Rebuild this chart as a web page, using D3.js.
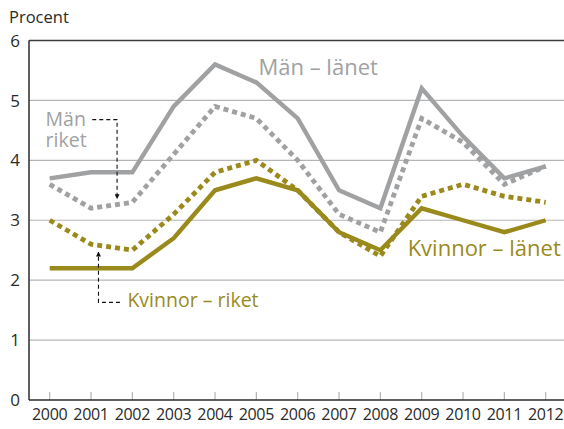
<!DOCTYPE html>
<html>
<head>
<meta charset="utf-8">
<script src="https://cdn.jsdelivr.net/npm/d3@7"></script>
<style>
  html, body { margin: 0; padding: 0; background: #fff; }
  svg { display: block; font-family: "Open Sans", "Noto Sans", sans-serif; }
</style>
</head>
<body>
<div id="chart"></div>
<script>
// Data
const years = [2000, 2001, 2002, 2003, 2004, 2005, 2006, 2007, 2008, 2009, 2010, 2011, 2012];
const manLanet     = [3.7, 3.8, 3.8, 4.9, 5.6, 5.3, 4.7, 3.5, 3.2, 5.2, 4.4, 3.7, 3.9];
const manRiket     = [3.6, 3.2, 3.3, 4.1, 4.9, 4.7, 4.0, 3.1, 2.8, 4.7, 4.3, 3.6, 3.9];
const kvinnorLanet = [2.2, 2.2, 2.2, 2.7, 3.5, 3.7, 3.5, 2.8, 2.5, 3.2, 3.0, 2.8, 3.0];
const kvinnorRiket = [3.0, 2.6, 2.5, 3.1, 3.8, 4.0, 3.5, 2.8, 2.4, 3.4, 3.6, 3.4, 3.3];
const yTicks = [0, 1, 2, 3, 4, 5, 6];

const width = 564, height = 429;
const gray = '#a0a1a3';
const olive = '#9a8a1c';

const svg = d3.select('#chart').append('svg')
    .attr('width', width)
    .attr('height', height);

const plotLeft = 29, plotRight = 564;
const x = d3.scaleLinear().domain([2000, 2012]).range([49.7, 545.7]);
const y = d3.scaleLinear().domain([0, 6]).range([400, 40.5]);

// Gridlines
svg.append('g')
    .selectAll('line')
    .data(yTicks.filter(d => d > 0 && d < 6))
    .enter().append('line')
    .attr('x1', plotLeft).attr('x2', plotRight)
    .attr('y1', d => y(d)).attr('y2', d => y(d))
    .attr('stroke', '#b4b4b4')
    .attr('stroke-width', 1.2);

// Top border
svg.append('line')
    .attr('x1', plotLeft).attr('x2', plotRight)
    .attr('y1', y(6)).attr('y2', y(6))
    .attr('stroke', '#3a3a3a').attr('stroke-width', 1.3);

// Year ticks (inside, gray)
svg.append('g')
    .selectAll('line')
    .data(years)
    .enter().append('line')
    .attr('x1', d => x(d)).attr('x2', d => x(d))
    .attr('y1', y(0) - 8).attr('y2', y(0))
    .attr('stroke', '#b4b4b4')
    .attr('stroke-width', 1.2);

// Axes lines
svg.append('line')
    .attr('x1', plotLeft).attr('x2', plotRight)
    .attr('y1', y(0)).attr('y2', y(0))
    .attr('stroke', '#2a2a2a').attr('stroke-width', 1.5);
svg.append('line')
    .attr('x1', plotLeft).attr('x2', plotLeft)
    .attr('y1', y(6)).attr('y2', y(0))
    .attr('stroke', '#2a2a2a').attr('stroke-width', 1.5);

// Y tick labels
svg.append('g')
    .selectAll('text')
    .data(yTicks)
    .enter().append('text')
    .attr('x', 20)
    .attr('y', d => y(d))
    .attr('dy', '0.36em')
    .attr('text-anchor', 'end')
    .attr('font-size', 17)
    .attr('fill', '#2a2a2a')
    .text(d => d);

// X tick labels
svg.append('g')
    .selectAll('text')
    .data(years)
    .enter().append('text')
    .attr('x', d => x(d))
    .attr('y', 420)
    .attr('text-anchor', 'middle')
    .attr('font-size', 16)
    .attr('letter-spacing', -0.3)
    .attr('fill', '#2a2a2a')
    .text(d => d);

svg.append('text')
    .attr('x', 9).attr('y', 23)
    .attr('font-size', 16.5)
    .attr('fill', '#2a2a2a')
    .text('Procent');

// Lines
const line = values => d3.line()
    .x((d, i) => x(years[i]))
    .y(d => y(d))(values);

const series = [
    { values: kvinnorLanet, color: olive, dashed: false },
    { values: kvinnorRiket, color: olive, dashed: true },
    { values: manLanet, color: gray, dashed: false },
    { values: manRiket, color: gray, dashed: true }
];

svg.append('g')
    .selectAll('path')
    .data(series)
    .enter().append('path')
    .attr('d', d => line(d.values))
    .attr('fill', 'none')
    .attr('stroke', d => d.color)
    .attr('stroke-width', d => d.dashed ? 4.8 : 4.4)
    .attr('stroke-dasharray', d => d.dashed ? '5,4' : null)
    .attr('stroke-linejoin', 'miter');

// Labels
svg.append('text')
    .attr('x', x(2005.05)).attr('y', y(5.43))
    .attr('font-size', 22).attr('fill', gray)
    .text('Män – länet');

svg.append('text')
    .attr('x', x(2008.66)).attr('y', y(2.4))
    .attr('font-size', 22).attr('fill', olive)
    .text('Kvinnor – länet');

svg.append('text')
    .attr('x', x(2001.88)).attr('y', y(1.55))
    .attr('font-size', 19.5).attr('fill', olive)
    .text('Kvinnor – riket');

const manRiketLabel = svg.append('text')
    .attr('font-size', 19.5).attr('fill', gray);
manRiketLabel.append('tspan').attr('x', x(1999.9)).attr('y', y(4.58)).text('Män');
manRiketLabel.append('tspan').attr('x', x(1999.9)).attr('y', y(4.22)).text('riket');

// Arrow markers
const defs = svg.append('defs');
defs.append('marker')
    .attr('id', 'arrow')
    .attr('viewBox', '0 0 10 10')
    .attr('refX', 9).attr('refY', 5)
    .attr('markerWidth', 5).attr('markerHeight', 5)
    .attr('markerUnits', 'userSpaceOnUse')
    .attr('orient', 'auto')
    .append('path')
    .attr('d', 'M0,0L10,5L0,10z')
    .attr('fill', '#111');

const arrowPath = d3.line().x(d => x(d[0])).y(d => y(d[1]));

svg.append('path')
    .attr('d', arrowPath([[2001.03, 4.68], [2001.63, 4.68], [2001.63, 3.36]]))
    .attr('fill', 'none')
    .attr('stroke', '#111')
    .attr('stroke-width', 1.1)
    .attr('stroke-dasharray', '4,3')
    .attr('marker-end', 'url(#arrow)');

svg.append('path')
    .attr('d', arrowPath([[2001.7, 1.63], [2001.18, 1.63], [2001.18, 2.47]]))
    .attr('fill', 'none')
    .attr('stroke', '#111')
    .attr('stroke-width', 1.1)
    .attr('stroke-dasharray', '4,3')
    .attr('marker-end', 'url(#arrow)');
</script>
</body>
</html>
